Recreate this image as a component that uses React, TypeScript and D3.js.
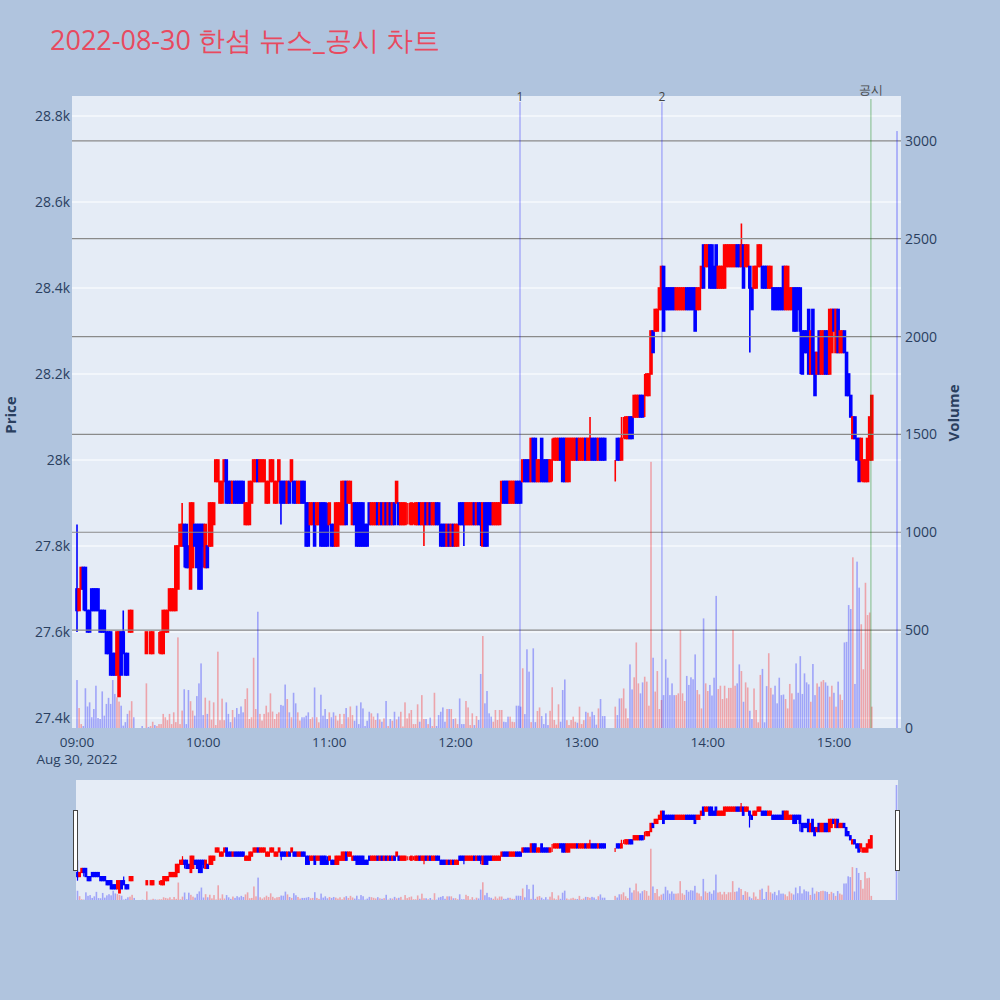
import React from "react";
import * as d3 from "d3";

// ---- minute data, index = minutes after 09:00 (null = no trade) ----
const opens: (number | null)[] = [
27700,27650,27700,27750,27750,27650,27650,27700,27700,27700,
27700,27650,27650,27650,27600,27600,27600,27550,27550,27500,
27450,27600,27600,27550,27550,27600,27600,27600,null,null,
null,27550,null,27550,27500,27550,27550,27550,27550,27550,
27550,27550,27600,27600,27650,27650,27650,27650,27700,27800,
27800,27850,27850,27800,27700,27750,27850,27850,27850,27850,
27850,27750,27800,27800,27800,27850,27950,27950,27900,27900,
27950,28000,27950,27950,27900,27950,27950,27950,27950,27950,
27850,27850,27850,27900,27950,27950,28000,27950,27950,27950,
27900,27900,27950,27950,27900,27900,27950,27950,27950,27950,
27900,27950,27950,27950,27950,27900,27900,27950,27950,27900,
27900,27850,27850,27900,27850,27850,27900,27900,27900,27850,
27850,27850,27850,27800,27800,27850,27850,27850,27950,27900,
27900,27850,27900,27900,27900,27900,27900,27850,27850,27900,
27850,27850,27850,27900,27850,27900,27850,27900,27850,27900,
27850,27900,27900,27900,27850,27850,27850,27900,27900,27850,
27900,27850,27850,27900,27850,27850,27900,27850,27900,27850,
27850,27900,27900,27850,27850,27850,27800,27850,27800,27850,
27800,27800,27900,27900,27900,27850,27850,27850,27850,27900,
27850,27900,27900,27800,27900,27900,27900,27900,27850,27850,
27850,27850,27900,27950,27950,27950,27900,27900,27900,27950,
27950,27950,27950,28000,28000,28000,27950,28050,28050,27950,
27950,28050,28000,28000,28000,27950,28000,28000,28000,28000,
28050,28050,28050,27950,27950,28000,28000,28000,28050,28000,
28000,28000,28050,28000,28000,28050,28050,28050,28000,28050,
28050,28050,null,null,null,null,28000,28050,28050,28000,
28100,28050,28050,28100,28100,28100,28100,28100,28150,28150,
28150,28150,28150,28200,28300,28300,28300,28350,28350,28450,
28400,28400,28400,28400,28400,28350,28350,28350,28350,28350,
28400,28400,28400,28400,28400,28350,28350,28400,28500,28450,
28450,28500,28500,28450,28500,28400,28400,28400,28400,28450,
28450,28450,28450,28450,28500,28500,28450,28500,28450,28450,
28450,28400,28400,28400,28450,28450,28450,28450,28450,28400,
28400,28400,28400,28400,28400,28400,28450,28350,28350,28350,
28350,28400,28400,28400,28400,28300,28300,28300,28350,28200,
28350,28250,28200,28300,28200,28200,28300,28300,28200,28250,
28350,28250,28350,28250,28250,28300,28250,28200,28150,28050,
28100,28050,28050,28000,27950,27950,27950,28000,28000,null,
null,null,null,null,null,null,null,null,null,null,
28050,
];

const closes: (number | null)[] = [
27650,27700,27750,27700,27650,27600,27600,27650,27650,27650,
27650,27600,27600,27600,27550,27550,27500,27500,27500,27600,
27600,27500,27550,27500,27500,27650,27650,27600,null,null,
null,27550,null,27600,27500,27600,27600,27550,27550,27550,
27600,27650,27650,27650,27700,27700,27700,27800,27800,27850,
27850,27800,27750,27750,27900,27900,27800,27750,27700,27700,
27800,27850,27750,27900,27900,27900,28000,28000,27950,27950,
28000,27900,27900,27900,27950,27900,27900,27900,27900,27900,
27900,27900,27950,27950,28000,28000,27950,28000,28000,28000,
27950,27950,28000,28000,27950,27950,28000,27900,27900,27900,
27950,27900,28000,27900,27900,27950,27950,27900,27900,27800,
27800,27900,27900,27800,27900,27900,27800,27800,27800,27800,
27900,27800,27800,27900,27900,27900,27950,27950,27850,27950,
27950,27900,27850,27800,27800,27800,27800,27800,27800,27850,
27900,27900,27900,27850,27900,27850,27900,27850,27900,27850,
27900,27850,27950,27850,27900,27900,27900,27900,27900,27900,
27900,27900,27900,27850,27900,27900,27850,27900,27850,27900,
27900,27850,27850,27800,27800,27800,27850,27800,27850,27800,
27850,27850,27850,27850,27850,27900,27900,27900,27900,27850,
27900,27850,27850,27900,27800,27800,27850,27850,27900,27900,
27900,27900,27950,27900,27900,27900,27950,27950,27950,27900,
27900,27900,28000,27950,27950,27950,28050,27950,27950,28000,
28000,27950,27950,27950,27950,28000,28000,28050,28050,28050,
28000,27950,27950,28050,28050,28050,28050,28050,28000,28050,
28050,28050,28000,28050,28050,28000,28000,28000,28050,28000,
28000,28000,null,null,null,null,28000,28000,28000,28050,
28100,28100,28100,28050,28050,28150,28150,28150,28100,28100,
28150,28200,28200,28300,28250,28350,28350,28400,28450,28300,
28350,28350,28350,28350,28350,28400,28400,28400,28400,28400,
28350,28350,28350,28350,28300,28400,28400,28450,28400,28500,
28500,28400,28400,28400,28400,28450,28450,28450,28500,28500,
28500,28500,28500,28500,28450,28450,28500,28400,28500,28500,
28400,28350,28450,28450,28500,28500,28400,28400,28400,28450,
28450,28350,28350,28350,28350,28350,28350,28450,28450,28400,
28400,28300,28300,28350,28300,28200,28250,28250,28200,28300,
28200,28150,28250,28200,28300,28300,28200,28200,28350,28350,
28300,28350,28250,28300,28300,28250,28150,28150,28100,28100,
28050,28000,27950,28050,28000,28000,28050,28100,28150,null,
null,null,null,null,null,null,null,null,null,null,
28050,
];

const highs: (number | null)[] = [
27850,27700,27750,27750,27750,27650,27650,27700,27700,27700,
27700,27650,27650,27650,27600,27600,27600,27550,27550,27600,
27600,27600,27650,27550,27550,27650,27650,27600,null,null,
null,27550,null,27600,27500,27600,27600,27550,27550,27600,
27600,27650,27650,27650,27700,27700,27700,27800,27800,27850,
27900,27850,27850,27800,27900,27900,27850,27850,27850,27850,
27850,27850,27800,27900,27900,27900,28000,28000,27950,27950,
28000,28000,27950,27950,27950,27950,27950,27950,27950,27950,
27900,27900,27950,27950,28000,28000,28000,28000,28000,28000,
27950,27950,28000,28000,27950,27950,28000,27950,27950,27950,
27950,27950,28000,27950,27950,27950,27950,27950,27950,27900,
27900,27900,27900,27900,27900,27900,27900,27900,27900,27900,
27900,27850,27850,27900,27900,27900,27950,27950,27950,27950,
27950,27900,27900,27900,27900,27900,27900,27850,27850,27900,
27900,27900,27900,27900,27900,27900,27900,27900,27900,27900,
27900,27900,27950,27900,27900,27900,27900,27900,27900,27900,
27900,27900,27900,27900,27900,27900,27900,27900,27900,27900,
27900,27900,27900,27850,27850,27850,27850,27850,27850,27850,
27850,27850,27900,27900,27900,27900,27900,27900,27900,27900,
27900,27900,27900,27900,27900,27900,27900,27900,27900,27900,
27900,27900,27950,27950,27950,27950,27950,27950,27950,27950,
27950,27950,28000,28000,28000,28000,28050,28050,28050,28000,
28000,28050,28000,28000,28000,28000,28050,28050,28050,28050,
28050,28050,28050,28050,28050,28050,28050,28050,28050,28050,
28050,28050,28050,28050,28100,28050,28050,28050,28050,28050,
28050,28050,null,null,null,null,28000,28050,28050,28100,
28100,28100,28100,28100,28100,28150,28150,28150,28150,28150,
28200,28200,28200,28300,28300,28350,28350,28400,28450,28450,
28400,28400,28400,28400,28400,28400,28400,28400,28400,28400,
28400,28400,28400,28400,28400,28400,28400,28450,28500,28500,
28500,28500,28500,28450,28500,28450,28450,28450,28500,28500,
28500,28500,28500,28500,28500,28500,28550,28500,28500,28500,
28450,28400,28450,28450,28500,28500,28450,28450,28450,28450,
28450,28400,28400,28400,28400,28400,28450,28450,28450,28400,
28400,28400,28400,28400,28400,28300,28300,28300,28350,28300,
28350,28250,28250,28300,28300,28300,28300,28300,28350,28350,
28350,28350,28350,28300,28300,28300,28250,28200,28150,28100,
28100,28050,28050,28050,28000,28000,28050,28100,28150,null,
null,null,null,null,null,null,null,null,null,null,
28050,
];

const lows: (number | null)[] = [
27600,27650,27700,27650,27650,27600,27600,27650,27650,27650,
27650,27600,27600,27600,27550,27550,27500,27500,27500,27500,
27450,27500,27550,27500,27500,27600,27600,27600,null,null,
null,27550,null,27550,27500,27550,27550,27550,27550,27550,
27550,27550,27600,27600,27650,27650,27650,27650,27700,27800,
27800,27750,27750,27750,27700,27750,27800,27750,27700,27700,
27750,27750,27750,27800,27800,27850,27950,27950,27900,27900,
27950,27900,27900,27900,27900,27900,27900,27900,27900,27900,
27850,27850,27850,27900,27950,27950,27950,27950,27950,27950,
27900,27900,27950,27950,27900,27900,27950,27850,27900,27900,
27900,27900,27950,27900,27900,27900,27900,27900,27900,27800,
27800,27850,27850,27800,27850,27850,27800,27800,27800,27800,
27850,27800,27800,27800,27800,27850,27850,27850,27850,27900,
27900,27850,27850,27800,27800,27800,27800,27800,27800,27850,
27850,27850,27850,27850,27850,27850,27850,27850,27850,27850,
27850,27850,27900,27850,27850,27850,27850,27850,27850,27850,
27850,27850,27850,27850,27850,27800,27850,27850,27850,27850,
27850,27850,27850,27800,27800,27800,27800,27800,27800,27800,
27800,27800,27850,27850,27800,27850,27850,27850,27850,27850,
27850,27850,27800,27800,27800,27800,27850,27850,27850,27850,
27850,27850,27900,27900,27900,27900,27900,27900,27900,27900,
27900,27900,27950,27950,27950,27950,27950,27950,27950,27950,
27950,27950,27950,27950,27950,27950,27950,28000,28000,28000,
28000,27950,27950,27950,27950,28000,28000,28000,28000,28000,
28000,28000,28000,28000,28000,28000,28000,28000,28000,28000,
28000,28000,null,null,null,null,27950,28000,28000,28000,
28050,28050,28050,28050,28050,28100,28100,28100,28100,28100,
28100,28150,28150,28200,28250,28300,28300,28350,28350,28300,
28350,28350,28350,28350,28350,28350,28350,28350,28350,28350,
28350,28350,28350,28350,28300,28350,28350,28400,28400,28450,
28450,28400,28400,28400,28400,28400,28400,28400,28400,28450,
28450,28450,28450,28450,28450,28450,28450,28400,28450,28450,
28250,28350,28400,28400,28450,28450,28400,28400,28400,28400,
28400,28350,28350,28350,28350,28350,28350,28350,28350,28350,
28350,28300,28300,28350,28200,28200,28250,28250,28200,28200,
28200,28150,28200,28200,28200,28200,28200,28200,28200,28250,
28300,28250,28250,28250,28250,28250,28150,28150,28100,28050,
28050,28000,27950,27950,27950,27950,27950,28000,28000,null,
null,null,null,null,null,null,null,null,null,null,
28050,
];

const volumes: (number | null)[] = [
245,102,20,10,203,110,131,55,97,216,
51,46,187,63,123,154,123,245,174,157,
135,114,12,30,72,89,137,55,null,null,
null,10,null,228,5,10,32,15,10,20,
20,72,55,40,72,20,80,30,463,20,
89,198,20,194,137,89,63,163,228,330,
66,155,72,140,43,131,15,390,40,150,
40,131,72,30,92,55,102,72,110,80,
148,203,46,55,359,97,594,72,38,72,
114,80,177,84,46,72,80,118,114,222,
148,80,55,180,126,80,38,55,55,63,
80,46,55,207,55,29,170,63,97,46,
80,55,80,63,38,72,20,72,102,55,
110,66,37,114,20,131,100,10,37,83,
75,58,41,75,44,32,49,138,10,46,
37,83,44,58,83,8,131,49,75,92,
20,20,121,32,168,46,46,20,53,10,
180,10,66,83,105,32,97,97,97,46,
49,20,151,20,20,138,105,15,75,15,
61,41,276,470,126,189,75,58,32,92,
41,92,92,32,30,58,58,32,30,114,
114,109,305,71,402,288,30,407,30,87,
105,61,20,75,15,88,208,41,17,121,
32,194,248,40,15,41,58,32,27,109,
20,40,83,78,58,83,66,17,100,148,
61,61,null,null,null,null,109,66,151,152,
202,100,50,325,197,259,437,228,177,233,
262,237,114,1360,359,186,291,97,143,168,
351,257,168,228,168,168,177,500,177,138,
266,220,259,249,376,194,172,100,560,228,
189,220,166,257,675,199,216,148,216,152,
205,205,500,216,228,325,291,134,233,207,
88,46,202,92,29,271,302,29,214,382,
205,171,216,126,257,168,171,148,100,225,
177,146,330,180,367,174,279,233,223,134,
327,168,228,211,237,245,233,216,160,216,
180,109,237,171,143,437,440,628,608,872,
225,850,717,530,300,742,577,590,109,null,
null,null,null,null,null,null,null,null,null,null,
3050,
];

const hourLabels = ["09:00", "10:00", "11:00", "12:00", "13:00", "14:00", "15:00"];
const hourMinutes = [0, 60, 120, 180, 240, 300, 360];
const dateLabel = "Aug 30, 2022";
const priceTicks = [27400, 27600, 27800, 28000, 28200, 28400, 28600, 28800];
const priceTickLabels = ["27.4k", "27.6k", "27.8k", "28k", "28.2k", "28.4k", "28.6k", "28.8k"];
const volumeTicks = [0, 500, 1000, 1500, 2000, 2500, 3000];
const markerLabels = ["1", "2", "공시"];
const markerMinutes = [210.7, 278.2, 377.6];
const titleText = "2022-08-30 한섬 뉴스_공시 차트";

const UP = "#ff0000";
const DOWN = "#0000ff";
const FONT = "'Open Sans', verdana, arial, sans-serif";
const TXT = "#2a3f5f";

type Candle = { m: number; o: number; h: number; l: number; c: number; v: number; up: boolean };

function buildCandles(): Candle[] {
  const out: Candle[] = [];
  let prevClose: number | null = null;
  for (let i = 0; i < opens.length; i++) {
    const o = opens[i], c = closes[i], h = highs[i], l = lows[i];
    if (o == null || c == null || h == null || l == null) continue;
    let up: boolean;
    if (c > o) up = true;
    else if (c < o) up = false;
    else up = prevClose == null ? true : c >= prevClose;
    out.push({ m: i, o, h, l, c, v: volumes[i] ?? 0, up });
    prevClose = c;
  }
  return out;
}

export default function App() {
  const candles = buildCandles();
  const P = { left: 72, right: 901, top: 96, bottom: 728 };
  const x = d3.scaleLinear().domain([-2.38, 391.9]).range([P.left, P.right]);
  const yP = d3.scaleLinear().domain([27376.7, 28846.5]).range([P.bottom, P.top]);
  const yV = d3.scaleLinear().domain([0, 3229]).range([P.bottom, P.top]);

  const S = { left: 76, right: 898, top: 780, bottom: 900 };
  const sx = d3.scaleLinear().domain([0, 390]).range([77.5, 896.5]);
  const syP = d3.scaleLinear().domain([27364, 28831]).range([S.bottom, S.top]);
  const syV = d3.scaleLinear().domain([0, 3183]).range([S.bottom, S.top]);

  const drawCandle = (d: Candle, xs: (n: number) => number, ys: (n: number) => number, bw: number, sw: number, key: string) => {
    const col = d.up ? UP : DOWN;
    const cx = xs(d.m);
    const yTop = ys(Math.max(d.o, d.c));
    const yBot = ys(Math.min(d.o, d.c));
    return (
      <g key={key}>
        <line x1={cx} x2={cx} y1={ys(d.h)} y2={ys(d.l)} stroke={col} strokeWidth={sw} />
        <rect x={cx - bw / 2} y={yTop} width={bw} height={Math.max(0, yBot - yTop)} fill={col} stroke={col} strokeWidth={sw} />
      </g>
    );
  };

  return (
    <svg width={1000} height={1000} style={{ position: "absolute", left: 0, top: 0, display: "block" }} fontFamily={FONT}>
      <rect x={0} y={0} width={1000} height={1000} fill="#b0c4de" />
      <text x={50} y={50} fontSize={27} fill="#e84a5f">{titleText}</text>

      {/* main plot */}
      <rect x={P.left} y={P.top} width={P.right - P.left} height={P.bottom - P.top} fill="#e5ecf6" />
      {priceTicks.map((t) => (
        <line key={"pg" + t} x1={P.left} x2={P.right} y1={yP(t)} y2={yP(t)} stroke="#ffffff" strokeWidth={1.2} />
      ))}
      <g>{candles.map((d, i) => drawCandle(d, x, yP, 2, 1.6, "c" + i))}</g>
      {volumeTicks.filter((t) => t > 0).map((t) => (
        <line key={"vg" + t} x1={P.left} x2={P.right} y1={yV(t)} y2={yV(t)} stroke="#8a8a8a" strokeWidth={1.2} />
      ))}
      <g opacity={0.3}>
        {candles.map((d, i) => (
          <rect key={"v" + i} x={x(d.m) - 0.8} y={yV(d.v)} width={1.6} height={yV(0) - yV(d.v)} fill={d.up ? UP : DOWN} />
        ))}
      </g>

      {/* event markers */}
      {markerMinutes.map((m, i) => {
        const isNotice = i === 2;
        return (
          <g key={"mk" + i}>
            <line x1={x(m)} x2={x(m)} y1={isNotice ? 99 : 102} y2={P.bottom}
              stroke={isNotice ? "rgba(0,128,0,0.45)" : "rgba(0,0,255,0.4)"} strokeWidth={1} />
            <text x={x(m)} y={isNotice ? 94 : 101} fontSize={12} fill="#444" textAnchor="middle">{markerLabels[i]}</text>
          </g>
        );
      })}

      {/* axes labels */}
      {priceTicks.map((t, i) => (
        <text key={"pl" + t} x={70} y={yP(t) + 5} fontSize={14} fill={TXT} textAnchor="end">{priceTickLabels[i]}</text>
      ))}
      {volumeTicks.map((t) => (
        <text key={"vl" + t} x={905} y={yV(t) + 5} fontSize={14} fill={TXT} textAnchor="start">{t}</text>
      ))}
      {hourMinutes.map((m, i) => (
        <text key={"hl" + m} x={x(m)} y={747} fontSize={13.5} fill={TXT} textAnchor="middle">{hourLabels[i]}</text>
      ))}
      <text x={x(0)} y={764} fontSize={13.5} fill={TXT} textAnchor="middle">{dateLabel}</text>
      <text transform={`translate(16,415) rotate(-90)`} fontSize={15} fontWeight="bold" fill={TXT} textAnchor="middle">Price</text>
      <text transform={`translate(959,413) rotate(-90)`} fontSize={15} fontWeight="bold" fill={TXT} textAnchor="middle">Volume</text>

      {/* range slider */}
      <rect x={S.left} y={S.top} width={S.right - S.left} height={S.bottom - S.top} fill="#e5ecf6" />
      <g>{candles.map((d, i) => drawCandle(d, sx, syP, 1.6, 1.2, "s" + i))}</g>
      <g opacity={0.3}>
        {candles.map((d, i) => (
          <rect key={"sv" + i} x={sx(d.m) - 0.8} y={syV(d.v)} width={1.6} height={syV(0) - syV(d.v)} fill={d.up ? UP : DOWN} />
        ))}
      </g>
      <rect x={73.5} y={810.5} width={4} height={60} fill="#ffffff" stroke="#444" strokeWidth={1} />
      <rect x={895.5} y={810.5} width={4} height={60} fill="#ffffff" stroke="#444" strokeWidth={1} />
    </svg>
  );
}
